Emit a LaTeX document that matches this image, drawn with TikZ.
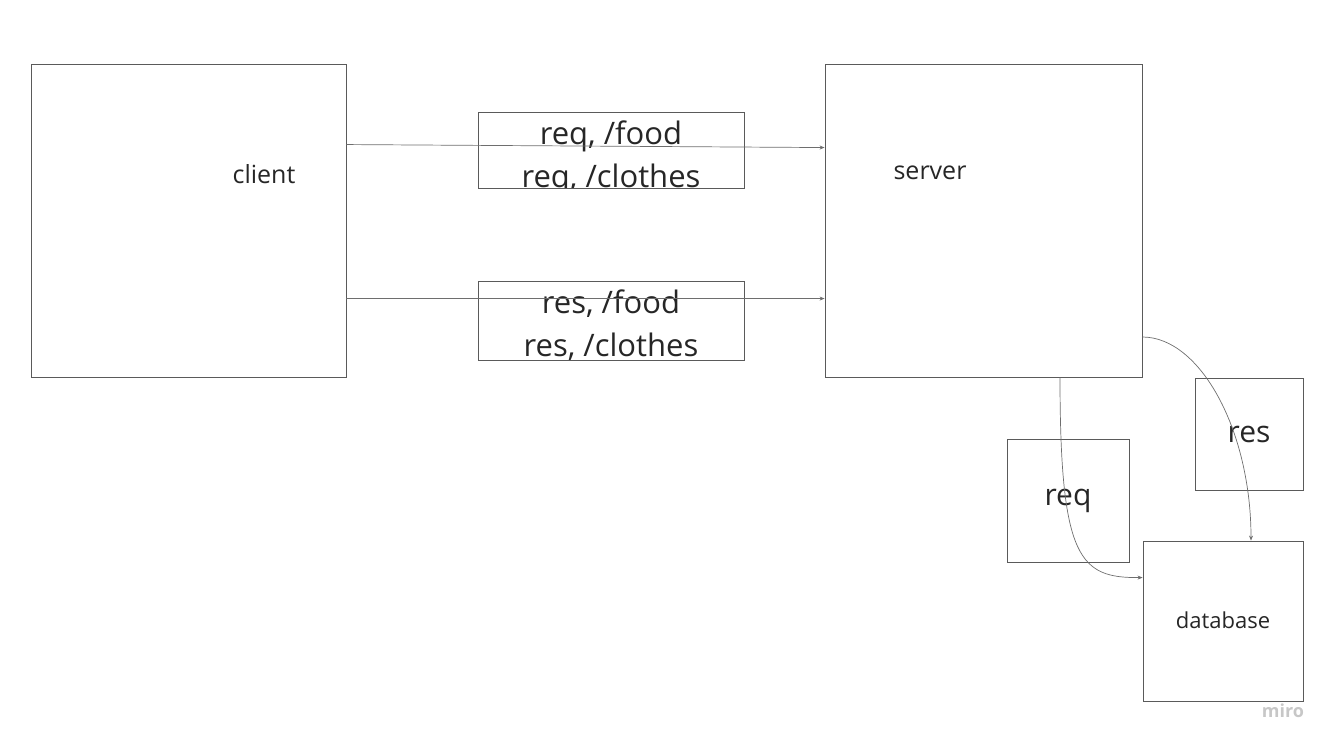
\documentclass[tikz,border=0pt]{standalone}
\usepackage{fontspec}
\setmainfont{Open Sans}
\usetikzlibrary{positioning, arrows.meta}
\definecolor{boxgray}{HTML}{5A5A5A}
\definecolor{linegray}{HTML}{6E6E6E}
\definecolor{textgray}{HTML}{262626}
\tikzstyle{box} = [draw=boxgray, line width=0.9pt, rectangle, inner sep=0pt, text=textgray]
\tikzstyle{flow} = [draw=linegray, line width=0.7pt, -{Stealth[length=5pt, width=4pt]}]

\begin{document}
\begin{tikzpicture}[x=1pt, y=-1pt, font=\fontsize{25}{30}\selectfont, text=textgray]
	\useasboundingbox (0,0) rectangle (1335,748);
	
	% client and server
	\node[box, minimum width=315pt, minimum height=313pt] (client) at (188.5,220.5) {};
	\node[box, minimum width=317pt, minimum height=313pt] (server) at (983.5,220.5) {};
	\node (clientname) at (264,174) {client};
	\node (servername) at (930,173) {server};
	
	% messages between them
	\node[box, minimum width=266pt, minimum height=76pt,
		path picture={\node[align=center, font=\fontsize{31}{43}\selectfont] (reqtext) at ([yshift=-8pt]path picture bounding box.center) {req, /food\\req, /clothes};}] (reqlist) at (611,150) {};
	\node[box, minimum width=266pt, minimum height=79pt,
		path picture={\node[align=center, font=\fontsize{31}{43}\selectfont] (restext) at ([yshift=-5pt]path picture bounding box.center) {res, /food\\res, /clothes};}] (reslist) at (611,320.5) {};
	
	% database side
	\node[box, minimum width=108pt, minimum height=112pt, font=\fontsize{30}{36}\selectfont] (resnote) at (1249,434) {res};
	\node[box, minimum width=122pt, minimum height=123pt, font=\fontsize{30}{36}\selectfont] (reqnote) at (1068,500.5) {\raisebox{5pt}{req}};
	\node[box, minimum width=160pt, minimum height=160pt, font=\fontsize{22}{26}\selectfont] (database) at (1223,621) {\raisebox{2pt}{database}};
	
	% connections
	\draw[flow] ([yshift=-81pt]client.north east) -- ([yshift=-84pt]server.north west);
	\draw[flow] ([yshift=-235pt]client.north east) -- ([yshift=-235pt]server.north west);
	\draw[flow] ([xshift=76.5pt]server.south) .. controls (1060,560) and (1080,578) .. ([yshift=-37pt]database.north west);
	\draw[flow] ([yshift=-116.5pt]server.east) .. controls (1200,337) and (1251,430) .. ([xshift=28pt]database.north);
	
	% watermark
	\node[text=black!22, font=\fontsize{18}{20}\selectfont\bfseries] (miro) at (1283,711) {miro};
\end{tikzpicture}
\end{document}
